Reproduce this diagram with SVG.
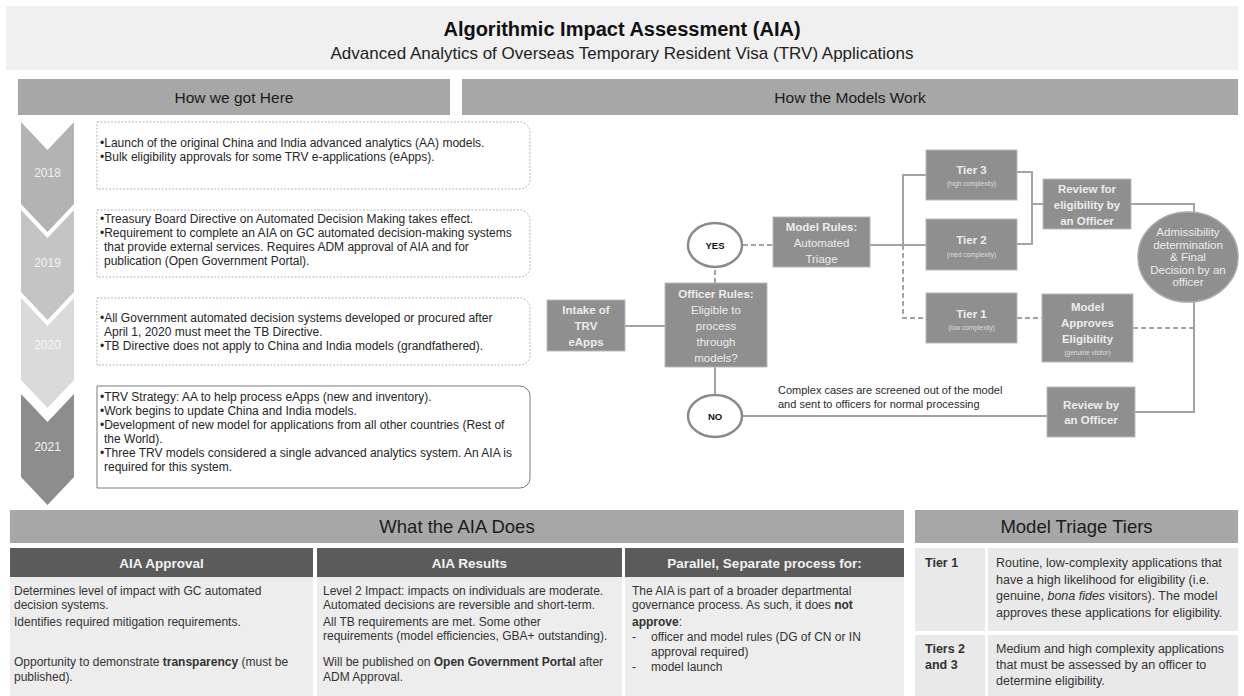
<svg xmlns="http://www.w3.org/2000/svg" width="1244" height="696" viewBox="0 0 1244 696">
  <style>
    text { font-family: 'Liberation Sans', Arial, sans-serif; }
    .banner { fill: #f0f0f0; }
    .band { fill: #a7a7a7; }
    .bandtxt { font-size: 15.5px; fill: #1c1c1c; text-anchor: middle; }
    .bandtxt2 { font-size: 18.5px; fill: #1c1c1c; text-anchor: middle; }
    .yr { font-size: 12px; text-anchor: middle; }
    .tbox { fill: #ffffff; stroke: #b4b4b4; stroke-width: 1; stroke-dasharray: 2 1.5; }
    .tbox-dark { fill: #ffffff; stroke: #7a7a7a; stroke-width: 1; }
    .tl { font-size: 12px; fill: #262626; }
    .node { fill: #8f8f8f; stroke: #b9b9b9; stroke-width: 1; }
    .nt { font-size: 11.5px; fill: #ececec; text-anchor: middle; }
    .b { font-weight: bold; }
    .nsm { font-size: 6.5px; fill: #dedede; text-anchor: middle; }
    .oval { fill: #ffffff; stroke: #8a8a8a; stroke-width: 2.5; }
    .ovt { font-size: 9.5px; font-weight: bold; fill: #111111; text-anchor: middle; }
    .ln { stroke: #a3a3a3; stroke-width: 2; fill: none; }
    .dash { stroke-dasharray: 5 3; }
    .note { font-size: 11px; fill: #2a2a2a; }
    .colhead { fill: #5b5b5b; }
    .colhtxt { font-size: 13.5px; font-weight: bold; fill: #f2f2f2; text-anchor: middle; }
    .colbody { fill: #ededed; }
    .ct { font-size: 12px; fill: #333333; }
    .tiercell { fill: #e9e9e9; }
    .tt { font-size: 12.5px; fill: #333333; }
  </style>

  <!-- Title banner -->
  <g id="title">
    <rect class="banner" x="6" y="6" width="1232" height="64"/>
    <text x="622" y="36" text-anchor="middle" font-size="20" font-weight="bold" fill="#111111">Algorithmic Impact Assessment (AIA)</text>
    <text x="622" y="59" text-anchor="middle" font-size="17" fill="#222222">Advanced Analytics of Overseas Temporary Resident Visa (TRV) Applications</text>
  </g>

  <!-- Section bands -->
  <g id="band-history">
    <rect class="band" x="18" y="79" width="432" height="36"/>
    <text class="bandtxt" x="234" y="102.5">How we got Here</text>
  </g>
  <g id="band-models">
    <rect class="band" x="462" y="79" width="776" height="36"/>
    <text class="bandtxt" x="850" y="102.5">How the Models Work</text>
  </g>

  <!-- Timeline chevrons -->
  <g id="chevron-2018">
    <path d="M21,122 L47.5,150 L74,122 L74,204 L47.5,232 L21,204 Z" fill="#b3b3b3"/>
    <text class="yr" x="47.5" y="177" fill="#eeeeee">2018</text>
  </g>
  <g id="chevron-2019">
    <path d="M21,210 L47.5,238 L74,210 L74,292 L47.5,320 L21,292 Z" fill="#c4c4c4"/>
    <text class="yr" x="47.5" y="267" fill="#f2f2f2">2019</text>
  </g>
  <g id="chevron-2020">
    <path d="M21,298 L47.5,326 L74,298 L74,380 L47.5,408 L21,380 Z" fill="#dadada"/>
    <text class="yr" x="47.5" y="349" fill="#f6f6f6">2020</text>
  </g>
  <g id="chevron-2021">
    <path d="M21,394 L47.5,422 L74,394 L74,477 L47.5,505 L21,477 Z" fill="#8d8d8d"/>
    <text class="yr" x="47.5" y="451" fill="#f4f4f4">2021</text>
  </g>

  <!-- Timeline boxes -->
  <g id="box-2018">
    <path class="tbox" d="M97,122 H520 A10,10 0 0 1 530,132 V179 A10,10 0 0 1 520,189 H97 Z"/>
    <text class="tl" x="100" y="147">•Launch of the original China and India advanced analytics (AA) models.</text>
    <text class="tl" x="100" y="161">•Bulk eligibility approvals for some TRV e-applications (eApps).</text>
  </g>
  <g id="box-2019">
    <path class="tbox" d="M97,210 H520 A10,10 0 0 1 530,220 V267 A10,10 0 0 1 520,277 H97 Z"/>
    <text class="tl" x="100" y="223">•Treasury Board Directive on Automated Decision Making takes effect.</text>
    <text class="tl" x="100" y="237">•Requirement to complete an AIA on GC automated decision-making systems</text>
    <text class="tl" x="104" y="251">that provide external services. Requires ADM approval of AIA and for</text>
    <text class="tl" x="104" y="265">publication (Open Government Portal).</text>
  </g>
  <g id="box-2020">
    <path class="tbox" d="M97,298 H520 A10,10 0 0 1 530,308 V355 A10,10 0 0 1 520,365 H97 Z"/>
    <text class="tl" x="100" y="322">•All Government automated decision systems developed or procured after</text>
    <text class="tl" x="104" y="336">April 1, 2020 must meet the TB Directive.</text>
    <text class="tl" x="100" y="350">•TB Directive does not apply to China and India models (grandfathered).</text>
  </g>
  <g id="box-2021">
    <path class="tbox-dark" d="M97,386 H520 A10,10 0 0 1 530,396 V478 A10,10 0 0 1 520,488 H97 Z"/>
    <text class="tl" x="100" y="401">•TRV Strategy: AA to help process eApps (new and inventory).</text>
    <text class="tl" x="100" y="415">•Work begins to update China and India models.</text>
    <text class="tl" x="100" y="429">•Development of new model for applications from all other countries (Rest of</text>
    <text class="tl" x="104" y="443">the World).</text>
    <text class="tl" x="100" y="457">•Three TRV models considered a single advanced analytics system. An AIA is</text>
    <text class="tl" x="104" y="471">required for this system.</text>
  </g>

  <!-- Flowchart connectors -->
  <g id="connectors">
    <path class="ln" d="M625,326 H665"/>
    <path class="ln dash" d="M715,283 V267"/>
    <path class="ln dash" d="M743,245 H773"/>
    <path class="ln" d="M715,367 V395"/>
    <path class="ln" d="M870,245 H926"/>
    <path class="ln" d="M903,245 V175 H926"/>
    <path class="ln dash" d="M903,245 V318 H926"/>
    <path class="ln" d="M1017,172 H1032 V244 H1017"/>
    <path class="ln" d="M1032,204 H1043"/>
    <path class="ln" d="M1131,204 H1194 V213"/>
    <path class="ln dash" d="M1017,318 H1042"/>
    <path class="ln dash" d="M1133,328 H1194"/>
    <path class="ln" d="M1194,302 V412 H1135"/>
    <path class="ln" d="M742,416 H1047"/>
  </g>

  <!-- Flowchart nodes -->
  <g id="node-intake">
    <rect class="node" x="547" y="300" width="78" height="51"/>
    <text class="nt b" x="586" y="314">Intake of</text>
    <text class="nt b" x="586" y="330">TRV</text>
    <text class="nt b" x="586" y="346">eApps</text>
  </g>
  <g id="node-officer-rules">
    <rect class="node" x="665" y="283" width="102" height="84"/>
    <text class="nt b" x="716" y="298">Officer Rules:</text>
    <text class="nt" x="716" y="314">Eligible to</text>
    <text class="nt" x="716" y="330">process</text>
    <text class="nt" x="716" y="346">through</text>
    <text class="nt" x="716" y="361.5">models?</text>
  </g>
  <g id="node-yes">
    <ellipse class="oval" cx="715" cy="245" rx="27" ry="22"/>
    <text class="ovt" x="715" y="248.5">YES</text>
  </g>
  <g id="node-no">
    <ellipse class="oval" cx="715" cy="416" rx="27" ry="21"/>
    <text class="ovt" x="715" y="419.5">NO</text>
  </g>
  <g id="node-model-rules">
    <rect class="node" x="773" y="217" width="97" height="50"/>
    <text class="nt b" x="821.5" y="231">Model Rules:</text>
    <text class="nt" x="821.5" y="247">Automated</text>
    <text class="nt" x="821.5" y="262.5">Triage</text>
  </g>
  <g id="node-tier3">
    <rect class="node" x="926" y="150" width="91" height="50"/>
    <text class="nt b" x="971.5" y="174">Tier 3</text>
    <text class="nsm" x="971.5" y="185.5">(high complexity)</text>
  </g>
  <g id="node-tier2">
    <rect class="node" x="926" y="219" width="91" height="51"/>
    <text class="nt b" x="971.5" y="244">Tier 2</text>
    <text class="nsm" x="971.5" y="256.5">(med complexity)</text>
  </g>
  <g id="node-tier1">
    <rect class="node" x="926" y="293" width="91" height="50"/>
    <text class="nt b" x="971.5" y="318">Tier 1</text>
    <text class="nsm" x="971.5" y="329.5">(low complexity)</text>
  </g>
  <g id="node-review-eligibility">
    <rect class="node" x="1043" y="179" width="88" height="50"/>
    <text class="nt b" x="1087" y="193">Review for</text>
    <text class="nt b" x="1087" y="209">eligibility by</text>
    <text class="nt b" x="1087" y="225">an Officer</text>
  </g>
  <g id="node-model-approves">
    <rect class="node" x="1042" y="294" width="91" height="68"/>
    <text class="nt b" x="1087.5" y="311">Model</text>
    <text class="nt b" x="1087.5" y="327">Approves</text>
    <text class="nt b" x="1087.5" y="343">Eligibility</text>
    <text class="nsm" x="1087.5" y="354.5">(genuine visitor)</text>
  </g>
  <g id="node-final-decision">
    <ellipse cx="1188" cy="257" rx="50" ry="45" fill="#8f8f8f" stroke="#a9a9a9" stroke-width="1.5"/>
    <text class="nt" x="1188" y="236" font-size="9">Admissibility</text>
    <text class="nt" x="1188" y="249" font-size="9">determination</text>
    <text class="nt" x="1188" y="261" font-size="9">&amp; Final</text>
    <text class="nt" x="1188" y="274" font-size="9">Decision by an</text>
    <text class="nt" x="1188" y="286" font-size="9">officer</text>
  </g>
  <g id="node-review-officer">
    <rect class="node" x="1047" y="387" width="88" height="50"/>
    <text class="nt b" x="1091" y="409">Review by</text>
    <text class="nt b" x="1091" y="424">an Officer</text>
  </g>
  <g id="note-complex">
    <text class="note" x="778" y="393.5">Complex cases are screened out of the model</text>
    <text class="note" x="778" y="407.5">and sent to officers for normal processing</text>
  </g>

  <!-- What the AIA Does -->
  <g id="aia-does">
    <rect class="band" x="10" y="510" width="894" height="33"/>
    <text class="bandtxt2" x="457" y="533">What the AIA Does</text>
  </g>
  <g id="col-approval">
    <rect class="colhead" x="10" y="548" width="303" height="29"/>
    <text class="colhtxt" x="161.5" y="567.5">AIA Approval</text>
    <rect class="colbody" x="10" y="577" width="303" height="119"/>
    <text class="ct" x="14" y="594.5">Determines level of impact with GC automated</text>
    <text class="ct" x="14" y="609">decision systems.</text>
    <text class="ct" x="14" y="625.5">Identifies required mitigation requirements.</text>
    <text class="ct" x="14" y="666">Opportunity to demonstrate <tspan font-weight="bold">transparency</tspan> (must be</text>
    <text class="ct" x="14" y="680.5">published).</text>
  </g>
  <g id="col-results">
    <rect class="colhead" x="317" y="548" width="305" height="29"/>
    <text class="colhtxt" x="469.5" y="567.5">AIA Results</text>
    <rect class="colbody" x="317" y="577" width="305" height="119"/>
    <text class="ct" x="323" y="594.5">Level 2 Impact: impacts on individuals are moderate.</text>
    <text class="ct" x="323" y="609">Automated decisions are reversible and short-term.</text>
    <text class="ct" x="323" y="625.5">All TB requirements are met. Some other</text>
    <text class="ct" x="323" y="640">requirements (model efficiencies, GBA+ outstanding).</text>
    <text class="ct" x="323" y="666">Will be published on <tspan font-weight="bold">Open Government Portal</tspan> after</text>
    <text class="ct" x="323" y="680.5">ADM Approval.</text>
  </g>
  <g id="col-parallel">
    <rect class="colhead" x="625" y="548" width="279" height="29"/>
    <text class="colhtxt" x="764.5" y="567.5">Parallel, Separate process for:</text>
    <rect class="colbody" x="625" y="577" width="279" height="119"/>
    <text class="ct" x="632" y="594.5">The AIA is part of a broader departmental</text>
    <text class="ct" x="632" y="609">governance process. As such, it does <tspan font-weight="bold">not</tspan></text>
    <text class="ct" x="632" y="625.5"><tspan font-weight="bold">approve</tspan>:</text>
    <text class="ct" x="632" y="641">-</text>
    <text class="ct" x="651" y="641">officer and model rules (DG of CN or IN</text>
    <text class="ct" x="651" y="655.5">approval required)</text>
    <text class="ct" x="632" y="671">-</text>
    <text class="ct" x="651" y="671">model launch</text>
  </g>

  <!-- Model Triage Tiers -->
  <g id="triage-tiers">
    <rect class="band" x="915" y="510" width="323" height="33"/>
    <text class="bandtxt2" x="1076.5" y="533">Model Triage Tiers</text>
  </g>
  <g id="tier-row-1">
    <rect class="tiercell" x="915" y="548" width="70" height="83"/>
    <rect class="tiercell" x="988" y="548" width="250" height="83"/>
    <text class="tt" x="925" y="567" font-weight="bold">Tier 1</text>
    <text class="tt" x="996" y="567">Routine, low-complexity applications that</text>
    <text class="tt" x="996" y="583.5">have a high likelihood for eligibility (i.e.</text>
    <text class="tt" x="996" y="600">genuine, <tspan font-style="italic">bona fides</tspan> visitors). The model</text>
    <text class="tt" x="996" y="616.5">approves these applications for eligibility.</text>
  </g>
  <g id="tier-row-2">
    <rect class="tiercell" x="915" y="635" width="70" height="61"/>
    <rect class="tiercell" x="988" y="635" width="250" height="61"/>
    <text class="tt" x="925" y="653" font-weight="bold">Tiers 2</text>
    <text class="tt" x="925" y="669" font-weight="bold">and 3</text>
    <text class="tt" x="996" y="653">Medium and high complexity applications</text>
    <text class="tt" x="996" y="669">that must be assessed by an officer to</text>
    <text class="tt" x="996" y="685">determine eligibility.</text>
  </g>
</svg>
